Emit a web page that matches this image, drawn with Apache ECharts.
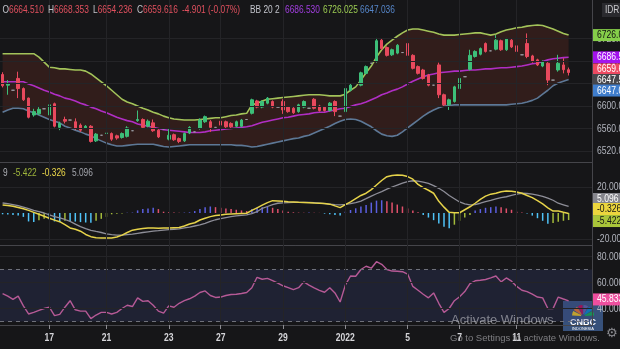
<!DOCTYPE html>
<html>
<head>
<meta charset="utf-8">
<script src="https://cdn.jsdelivr.net/npm/echarts@6/dist/echarts.min.js"></script>
<style>
  html, body { margin: 0; padding: 0; background: #161618; }
  #chart { width: 620px; height: 349px; }
</style>
</head>
<body>
<div id="chart"></div>
<script>
// ---- IHSG intraday bars (O/H/L/C) ----
const opens = [6656,6637,6628,6649,6631,6614,6584,6586,6595,6584,
  6604,6562,6576,6575,6572,6566,6561,6564,6538,6548,
  6551,6551,6547,6544,6546,6556,6574,6576,6564,6570,
  6557,6559,6541,6549,6542,6538,6552,6554,6560,6572,
  6572,6562,6573,6572,6569,6564,6564,6576,6587,6609,
  6598,6605,6608,6598,6608,6598,6596,6590,6598,6596,
  6612,6600,6598,6592,6608,6582,6590,6628,6640,6637,
  6658,6676,6679,6717,6704,6691,6694,6695,6711,6690,
  6670,6664,6655,6637,6673,6620,6602,6608,6631,6652,
  6665,6688,6692,6711,6698,6701,6716,6700,6717,6707,
  6691,6711,6689,6682,6671,6676,6646,6664,6673,6664.510];
const highs = [6660,6646,6628,6661,6633,6615,6595,6598,6595,6608,
  6606,6572,6581,6575,6578,6569,6566,6566,6552,6548,
  6581,6553,6549,6553,6564,6556,6592,6578,6576,6576,
  6559,6559,6560,6551,6544,6553,6564,6554,6578,6583,
  6575,6562,6575,6574,6571,6574,6577,6576,6613,6611,
  6610,6616,6610,6598,6612,6600,6598,6604,6610,6596,
  6614,6602,6600,6607,6610,6582,6633,6640,6640,6661,
  6672,6676,6721,6720,6706,6702,6710,6695,6736,6692,
  6672,6666,6657,6637,6677,6622,6613,6636,6651,6652,
  6700,6699,6704,6713,6698,6726,6718,6721,6719,6709,
  6691,6729,6691,6684,6681,6678,6646,6691,6685,6668.353];
const lows = [6633,6620,6628,6614,6609,6578,6581,6584,6595,6581,
  6562,6557,6569,6575,6557,6554,6559,6535,6536,6548,
  6546,6538,6540,6542,6544,6556,6572,6560,6562,6554,
  6543,6559,6539,6538,6534,6536,6550,6554,6558,6570,
  6554,6562,6564,6561,6561,6562,6562,6576,6585,6596,
  6596,6603,6596,6598,6586,6588,6586,6588,6596,6596,
  6594,6590,6590,6590,6582,6582,6588,6626,6640,6635,
  6656,6676,6677,6700,6688,6689,6692,6695,6688,6665,
  6656,6647,6635,6637,6614,6598,6593,6606,6629,6652,
  6663,6686,6690,6695,6698,6699,6698,6698,6703,6695,
  6691,6685,6677,6671,6669,6637,6646,6661,6658,6654.236];
const closes = [6636,6640,6628,6631,6611,6580,6590,6594,6595,6602,
  6564,6569,6573,6575,6560,6557,6564,6537,6550,6548,
  6552,6541,6543,6551,6561,6556,6576,6562,6573,6556,
  6545,6559,6548,6540,6537,6551,6562,6554,6575,6581,
  6562,6562,6566,6563,6563,6572,6575,6576,6611,6598,
  6608,6614,6598,6598,6593,6590,6588,6602,6608,6596,
  6596,6592,6592,6605,6590,6582,6631,6637,6640,6659,
  6670,6676,6716,6702,6690,6700,6708,6695,6690,6667,
  6658,6649,6637,6637,6620,6602,6611,6634,6649,6652,
  6690,6697,6702,6697,6698,6717,6700,6719,6705,6697,
  6691,6688,6679,6673,6679,6646,6646,6676,6664.517,6659.616];

// ---- Bollinger Bands (20, 2) ----
const bbUpper = [6693,6693,6693,6693,6693,6693,6693,6687,6678,6669,
  6668,6666,6666,6665,6664,6664,6662,6657,6650,6643,
  6636,6628,6620,6612,6607,6604,6600,6596,6593,6589,
  6586,6582,6579,6577,6576,6575,6575,6575,6576,6577,
  6578,6579,6579,6581,6583,6584,6586,6587,6602,6605,
  6609,6612,6613,6614,6615,6616,6617,6618,6619,6620,
  6620,6620,6619,6618,6618,6618,6621,6628,6634,6646,
  6659,6671,6687,6700,6710,6717,6724,6730,6735,6737,
  6737,6735,6733,6731,6728,6726,6726,6726,6727,6728,
  6729,6730,6730,6728,6726,6728,6732,6735,6737,6739,
  6740,6742,6743,6744,6743,6740,6737,6733,6729,6726.025];
const bbMiddle = [6643,6643,6643,6643,6643,6639,6636,6632,6628,6625,
  6621,6618,6614,6612,6609,6605,6602,6598,6595,6591,
  6588,6584,6580,6577,6574,6572,6568,6566,6564,6562,
  6560,6558,6557,6556,6555,6554,6553,6553,6553,6554,
  6556,6557,6558,6559,6560,6561,6562,6563,6565,6568,
  6571,6573,6575,6577,6579,6580,6582,6584,6585,6586,
  6588,6589,6589,6591,6593,6595,6596,6599,6602,6604,
  6607,6611,6615,6620,6623,6627,6630,6634,6639,6644,
  6648,6652,6655,6657,6659,6660,6661,6662,6662,6663,
  6664,6664,6665,6666,6666,6667,6668,6668,6669,6670,
  6671,6673,6675,6676,6679,6682,6684,6685,6686,6686.530];
const bbLower = [6589,6593,6596,6596,6595,6591,6588,6584,6580,6576,
  6573,6570,6564,6561,6557,6554,6550,6547,6542,6538,
  6534,6531,6529,6529,6530,6531,6532,6532,6532,6532,
  6530,6528,6527,6528,6529,6530,6531,6531,6531,6531,
  6531,6531,6531,6531,6531,6530,6530,6529,6527,6528,
  6530,6532,6534,6536,6538,6540,6542,6543,6546,6548,
  6552,6556,6560,6564,6569,6573,6576,6577,6576,6573,
  6568,6563,6556,6550,6547,6546,6548,6554,6561,6568,
  6575,6582,6588,6593,6597,6600,6601,6602,6602,6602,
  6602,6602,6602,6602,6602,6602,6602,6602,6603,6604,
  6605,6607,6610,6614,6621,6628,6636,6641,6644,6647.036];
const prevDayClose = 6647.5;

// ---- MACD (12, 26, close, 9) ----
const macdLine = [6.2,5.8,5.2,4.3,3.2,2,0.5,-1,-2.5,-4,
  -5.5,-6.7,-9,-11.5,-12.5,-14,-16.5,-18.2,-19,-19.3,
  -19.3,-19.2,-18.5,-17,-15,-13.2,-12.5,-12,-11.5,-11.5,
  -11.8,-11.5,-11.5,-11.3,-11.2,-10,-8.5,-7.5,-5.4,-4,
  -2.8,-2,-1.5,-1,-0.8,-0.6,-0.4,-0.2,2,4,
  6,8,9.5,9.3,9,8.7,8.5,8.2,8,7.8,
  7.6,7.5,7.3,6.8,5.5,4.1,6.5,8.5,11,13.5,
  15.2,18,21.5,25,27.9,28.8,29.2,29,28,26,
  22,19.5,17.5,15.2,9,4.5,0.5,0.2,0.2,2.5,
  4.8,7.5,10.5,13,14.5,15.2,16.3,17,16.8,16.2,
  15.2,13.5,11.8,9.5,7,4,1.5,1.5,0.5,-0.326];
const macdSignal = [7.7,7.2,6.5,5.6,4.5,3.3,2,1,0,-1.5,
  -2.7,-3.8,-5,-6.5,-8.5,-10.5,-12,-13.3,-14.2,-15,
  -16,-16.7,-17,-17,-16.6,-16.2,-15.6,-15,-14.5,-14,
  -13.6,-13.1,-12.8,-12.5,-12.2,-11.5,-10.8,-10,-9.2,-8,
  -6.5,-5.2,-4.3,-3.5,-2.8,-2.2,-1.8,-1.5,-0.5,1,
  3.6,5,6.5,7.5,7.8,8,8.1,8.2,8.2,8.2,
  8,7.6,7.2,6.8,6.4,6.2,6.6,7.2,7.9,9.2,
  11,13,14.8,16.5,18.3,20,21.5,23,24.2,24.8,
  24.5,23.8,22.8,21,19,16.5,13.5,11,8.5,7,
  6.2,6.5,7.5,8.7,9.7,10.8,11.8,12.5,13.5,14.5,
  15.2,15,14.5,13.8,12.8,11.5,9.8,7.5,6.3,5.096];
const macdHist = [-1,-1.2,-1.5,-2,-3,-6.5,-7,-5.5,-4.5,-5,
  -6.5,-7,-6,-6.3,-6.6,-7,-7.3,-7.5,-6,-4.5,
  -3,-1,-0.5,-0.3,0.2,0.3,2,3,3.5,4,
  3,1,0.5,0.3,0.2,0.3,0.5,1.5,3,4.5,
  5,4.5,4,3.5,3,2.5,2,1.5,3,4,
  4.5,5,4,3,2,1,0.5,0.3,0.2,0.3,
  0.2,0.1,-0.5,-1,-1.5,-2,1,2.3,3.6,5,
  6.2,8,9.5,9.8,9,8,6.5,5,3.5,2,
  0.5,-1.5,-3.5,-5.5,-8,-10.5,-11.8,-9,-6,-3.5,
  -1.5,2,3,4,4.5,5,4.5,3.5,2.5,1,
  0.3,-0.3,-2,-4,-6,-8.2,-7.6,-6.8,-6,-5.422];

// ---- RSI (14) ----
const rsiValues = [51.5,49.5,47,49.5,42,35.8,37,38.5,40,41,
  34.5,35.5,41,46,39,38,38,32.2,35,37,
  37,35.8,37,40,42.5,41.5,48.2,45.5,46,42.5,
  38,36.5,42,41,44,46,47.5,49.5,52.3,53.5,
  50,48.5,48.8,50,50.8,51,51.5,52.3,56,64,
  62.5,63.2,61.5,59.5,57.5,56,54.5,56,60.5,58,
  55.8,54,52.5,56,52,45,58,65,64.8,70,
  72.5,71,76,74,70,68.8,68.7,68.3,66.5,57,
  54,51,48.2,52,44,37,40,46,49,53,
  59.2,61.3,61.7,62.3,63.5,65,60.5,63.5,61,57,
  54,53,51,48.8,48.2,40,39.9,48.8,47.3,45.833];

// ---- time axis ----
const dayLabelIndex = [9, 20, 32, 42, 54, 66, 78, 88, 99];
const dayLabelText = ['17', '21', '23', '27', '29', '2022', '5', '7', '11'];
const rightPadBars = 4;

// ---- scale ticks ----
const priceTicks = [6520, 6560, 6600, 6640, 6680, 6720];
const macdTicks = [-20, 20];
const rsiTicks = [40, 60, 80];
const rsiBand = [30, 70];

// ---------------------------------------------------------------
const FONT = '"Liberation Sans", Arial, sans-serif';
const SX = 0.76;                // narrow terminal-style lettering
const BG = '#161618';
const GRID_LINE = '#242427';
const SEP = '#45454a';
const AXIS_TEXT = '#b2b5be';
const UP = '#3dbf79';
const DOWN = '#e8495d';
const DOJI = '#9a9ca3';

const last = closes.length - 1;
const categories = [];
for (let i = 0; i < closes.length + rightPadBars; i++) categories.push('');
dayLabelIndex.forEach((idx, k) => { categories[idx] = dayLabelText[k]; });

const candleData = opens.map((o, i) => {
  const item = { value: [o, closes[i], lows[i], highs[i]] };
  if (o === closes[i] && highs[i] === lows[i]) {
    item.itemStyle = { color: DOJI, borderColor: DOJI, color0: DOJI, borderColor0: DOJI };
  }
  return item;
});
const bandWidth = bbUpper.map((u, i) => u - bbLower[i]);

const histData = macdHist.map((h, i) => {
  const prev = i > 0 ? macdHist[i - 1] : h;
  let color;
  if (h >= 0) color = h >= prev ? '#5b5fe0' : '#e0506b';
  else color = h <= prev ? '#4fc3f7' : '#a4bb3b';
  return { value: h, itemStyle: { color } };
});

const showAt = (i, v) => v !== '';
function xAxisFor(gi, withTicks) {
  return {
    type: 'category', gridIndex: gi, data: categories, boundaryGap: true,
    axisLine: { show: true, onZero: false, lineStyle: { color: SEP, width: 1 } },
    axisTick: { show: withTicks, alignWithLabel: true, interval: showAt, length: 4,
      lineStyle: { color: '#8d8d92' } },
    axisLabel: { show: false, interval: showAt },
    splitLine: { show: false }
  };
}
function yAxisFor(gi, min, max) {
  return {
    type: 'value', gridIndex: gi, position: 'right', min, max, scale: true,
    axisLine: { show: true, lineStyle: { color: SEP, width: 1 } },
    axisTick: { show: false },
    splitLine: { show: false },
    axisLabel: { show: false }
  };
}
// faint grid: horizontal at the scale ticks, vertical at the day marks
const gridMark = (ticks) => ({
  silent: true, symbol: 'none', label: { show: false },
  lineStyle: { color: GRID_LINE, width: 1, type: 'solid' },
  data: ticks.map(v => ({ yAxis: v })).concat(dayLabelIndex.map(i => ({ xAxis: i })))
});
const gridBox = (top, height) => ({ left: 0, right: 28, top, height, containLabel: false, outerBoundsMode: 'none' });

const option = {
  backgroundColor: BG,
  animation: false,
  grid: [gridBox(0, 162), gridBox(162, 83), gridBox(245, 80)],
  xAxis: [xAxisFor(0, false), xAxisFor(1, false), xAxisFor(2, true)],
  yAxis: [
    yAxisFor(0, 6500.44, 6788.44),
    yAxisFor(1, -24.62, 39.23),
    yAxisFor(2, 27.31, 88.85)
  ],
  series: [
    { type: 'line', xAxisIndex: 0, yAxisIndex: 0, data: bbLower, stack: 'bb', symbol: 'none',
      lineStyle: { width: 0, opacity: 0 }, silent: true, z: 1, markLine: gridMark(priceTicks) },
    { type: 'line', xAxisIndex: 0, yAxisIndex: 0, data: bandWidth, stack: 'bb', symbol: 'none',
      lineStyle: { width: 0, opacity: 0 }, areaStyle: { color: 'rgba(112,46,38,0.30)', opacity: 1 },
      silent: true, z: 1 },
    { type: 'line', xAxisIndex: 0, yAxisIndex: 0, data: bbUpper, symbol: 'none', silent: true,
      lineStyle: { color: '#a3c35a', width: 1.6 }, z: 2 },
    { type: 'line', xAxisIndex: 0, yAxisIndex: 0, data: bbMiddle, symbol: 'none', silent: true,
      lineStyle: { color: '#b02ec4', width: 1.6 }, z: 2 },
    { type: 'line', xAxisIndex: 0, yAxisIndex: 0, data: bbLower, symbol: 'none', silent: true,
      lineStyle: { color: '#5d7896', width: 1.6 }, z: 2 },
    { type: 'candlestick', xAxisIndex: 0, yAxisIndex: 0, data: candleData, barWidth: 3,
      itemStyle: { color: UP, color0: DOWN, borderColor: UP, borderColor0: DOWN, borderWidth: 1 },
      silent: true, z: 3 },

    { type: 'bar', xAxisIndex: 1, yAxisIndex: 1, data: histData, barWidth: 1.5, silent: true,
      markLine: gridMark(macdTicks), z: 2 },
    { type: 'line', xAxisIndex: 1, yAxisIndex: 1, data: macdSignal, symbol: 'none', silent: true,
      lineStyle: { color: '#8e8e98', width: 1.3 }, z: 3 },
    { type: 'line', xAxisIndex: 1, yAxisIndex: 1, data: macdLine, symbol: 'none', silent: true,
      lineStyle: { color: '#e6d34a', width: 1.5 }, z: 4 },

    { type: 'line', xAxisIndex: 2, yAxisIndex: 2, data: rsiValues, symbol: 'none', silent: true,
      lineStyle: { color: '#b65a96', width: 1.4 }, z: 3,
      markArea: { silent: true, itemStyle: { color: 'rgba(52,62,115,0.30)' },
        data: [[{ yAxis: rsiBand[0] }, { yAxis: rsiBand[1] }]] },
      markLine: { silent: true, symbol: 'none', label: { show: false },
        data: rsiBand.map(v => ({ yAxis: v, lineStyle: { color: '#6f717a', type: [4, 4], width: 1 } }))
          .concat(rsiTicks.map(v => ({ yAxis: v, lineStyle: { color: GRID_LINE, type: 'solid', width: 1 } })))
          .concat(dayLabelIndex.map(i => ({ xAxis: i, lineStyle: { color: GRID_LINE, type: 'solid', width: 1 } }))) } }
  ]
};

const chart = echarts.init(document.getElementById('chart'), null, { renderer: 'canvas' });
chart.setOption(option);

// ---- text helpers ----
const f3 = v => v.toFixed(3);
const txt = (x, y, text, fill, size, extra) => Object.assign({
  type: 'text', x, y, z: 100, scaleX: SX,
  style: { text, fill, fontSize: size || 11, fontFamily: FONT, align: 'left', verticalAlign: 'middle',
    textAlign: 'left', textVerticalAlign: 'middle' }
}, extra || {});
const richPair = (x, y, key, val) => ({
  type: 'text', x, y, z: 100, scaleX: SX,
  style: {
    text: (key ? '{g|' + key + '}' : '') + '{r|' + val + '}',
    fontSize: 11, fontFamily: FONT, verticalAlign: 'middle', textVerticalAlign: 'middle',
    rich: {
      g: { fill: '#c3c5cc', fontSize: 11, fontFamily: FONT },
      r: { fill: '#e0505e', fontSize: 11, fontFamily: FONT }
    }
  }
});

const change = closes[last] - closes[last - 1];
const changePct = change / closes[last - 1] * 100;
const changeText = (change >= 0 ? '+' : '') + change.toFixed(3) +
  ' (' + (changePct >= 0 ? '+' : '') + changePct.toFixed(2) + '%)';

const graphics = [
  richPair(2.5, 10, 'O', f3(opens[last])),
  richPair(48, 10, 'H', f3(highs[last])),
  richPair(93, 10, 'L', f3(lows[last])),
  richPair(137, 10, 'C', f3(closes[last])),
  richPair(182, 10, '', changeText),
  txt(250, 10, 'BB 20 2', '#c3c5cc'),
  txt(285, 10, f3(bbMiddle[last]), '#a23ee0'),
  txt(323, 10, f3(bbUpper[last]), '#9ccc52'),
  txt(360, 10, f3(bbLower[last]), '#5585c8'),
  { type: 'rect', z: 100, shape: { x: 602, y: 3, width: 18, height: 14 }, style: { fill: '#2a2a2e' } },
  txt(605, 10, 'IDR', '#c9c9cc', 11),

  txt(3, 173, '9', '#b0b2b8'),
  txt(13, 173, f3(macdHist[last]), '#9fb63c'),
  txt(42, 173, f3(macdLine[last]), '#ecd84a'),
  txt(72, 173, f3(macdSignal[last]), '#a4a6ad'),

  // desktop overlays on the capture
  { type: 'text', x: 451, y: 320, z: 110, style: { text: 'Activate Windows', fill: 'rgba(210,210,215,0.55)',
    fontSize: 13, fontFamily: FONT, verticalAlign: 'middle', textVerticalAlign: 'middle' } },
  { type: 'text', x: 450, y: 338, z: 110, style: { text: 'Go to Settings to activate Windows.', fill: 'rgba(210,210,215,0.55)',
    fontSize: 9.5, fontFamily: FONT, verticalAlign: 'middle', textVerticalAlign: 'middle' } },
  { type: 'text', x: 606, y: 334, z: 110, style: { text: '\u2699', fill: '#8a8a8f', fontSize: 13,
    fontFamily: '"DejaVu Sans", sans-serif', verticalAlign: 'middle', textVerticalAlign: 'middle' } },
  { type: 'group', x: 583, y: 316, z: 120, children: [
    { type: 'rect', shape: { x: -20, y: -15, width: 40, height: 30 }, style: { fill: 'rgba(78,122,190,0.6)' } },
    ...['#fccc12', '#f37021', '#cc004c', '#6460aa', '#0089d0', '#0db14b'].map((c, k) => ({
      type: 'sector', shape: { cx: 0, cy: 0, r0: 2, r: 11,
        startAngle: Math.PI + k * Math.PI / 6 + 0.05, endAngle: Math.PI + (k + 1) * Math.PI / 6 - 0.05 },
      style: { fill: c } })),
    { type: 'text', x: 0, y: 7, style: { text: 'CNBC', fill: '#ffffff', fontSize: 9, fontWeight: 'bold',
      fontFamily: FONT, align: 'center', verticalAlign: 'middle', textAlign: 'center', textVerticalAlign: 'middle' } },
    { type: 'text', x: 0, y: 12.5, style: { text: 'INDONESIA', fill: '#ffffff', fontSize: 4,
      fontFamily: FONT, align: 'center', verticalAlign: 'middle', textAlign: 'center', textVerticalAlign: 'middle' } }
  ] }
];

// ---- scale labels, placed through the axes ----
const scaleLabels = [
  { axis: 0, ticks: priceTicks, digits: 1 },
  { axis: 1, ticks: macdTicks, digits: 3 },
  { axis: 2, ticks: rsiTicks, digits: 3 }
];
scaleLabels.forEach(s => s.ticks.forEach(v => {
  const y = chart.convertToPixel({ yAxisIndex: s.axis }, v);
  graphics.push(txt(597, y, v.toFixed(s.digits), AXIS_TEXT, 11, { z: 90, scaleX: 0.78 }));
}));
dayLabelIndex.forEach((idx, k) => {
  const x = chart.convertToPixel({ xAxisIndex: 2 }, idx);
  graphics.push({ type: 'text', x, y: 338, z: 90, scaleX: 0.78,
    style: { text: dayLabelText[k], fill: '#d4d4d8', fontSize: 11, fontWeight: 'bold', fontFamily: FONT,
      align: 'center', verticalAlign: 'middle', textAlign: 'center', textVerticalAlign: 'middle' } });
});

// ---- last-value tags on the price scales ----
const tags = [
  { axis: 0, value: bbUpper[last], digits: 1, bg: '#86cf4a', fg: '#111', nudge: 0 },
  { axis: 0, value: bbMiddle[last], digits: 1, bg: '#a313ee', fg: '#fff', nudge: 0 },
  { axis: 0, value: closes[last], digits: 1, bg: '#ec4a61', fg: '#fff', nudge: -3 },
  { axis: 0, value: prevDayClose, digits: 1, bg: '#46464b', fg: '#fff', nudge: 0.7 },
  { axis: 0, value: bbLower[last], digits: 1, bg: '#3f7dcc', fg: '#fff', nudge: 11 },
  { axis: 1, value: macdSignal[last], digits: 3, bg: '#85858c', fg: '#fff', nudge: -7.4 },
  { axis: 1, value: macdLine[last], digits: 3, bg: '#ecd63e', fg: '#151515', nudge: -4.4 },
  { axis: 1, value: macdHist[last], digits: 3, bg: '#a9c53a', fg: '#151515', nudge: 1 },
  { axis: 2, value: rsiValues[last], digits: 3, bg: '#ee4f9f', fg: '#fff', nudge: -1.5 }
];
tags.forEach(t => {
  const y = chart.convertToPixel({ yAxisIndex: t.axis }, t.value) + t.nudge;
  graphics.push({ type: 'rect', z: 105, shape: { x: 593, y: y - 6, width: 30, height: 12 }, style: { fill: t.bg } });
  graphics.push(txt(597, y, t.value.toFixed(t.digits), t.fg, 11, { z: 106, scaleX: 0.78 }));
});

chart.setOption({ graphic: graphics });
</script>
</body>
</html>
